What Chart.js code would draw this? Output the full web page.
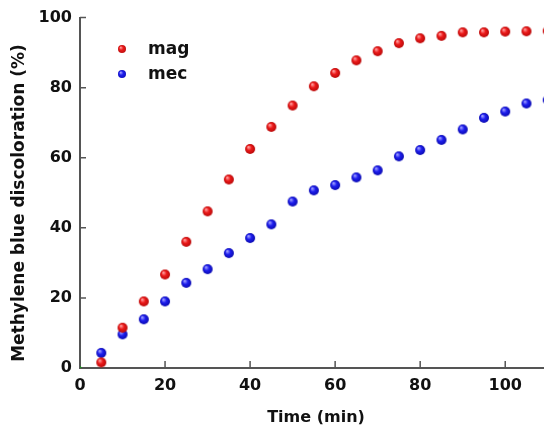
<!DOCTYPE html>
<html>
<head>
<meta charset="utf-8">
<script src="https://cdn.jsdelivr.net/npm/chart.js@4/dist/chart.umd.min.js"></script>
<style>
  html, body { margin: 0; padding: 0; background: #fff; overflow: hidden; }
  #wrap { width: 560px; height: 430px; }
</style>
</head>
<body>
<div id="wrap"><canvas id="chart"></canvas></div>
<script>
// Data
const times = [5, 10, 15, 20, 25, 30, 35, 40, 45, 50, 55, 60, 65, 70, 75, 80, 85, 90, 95, 100, 105, 110];
const magValues = [1.6, 11.5, 19.0, 26.7, 36.0, 44.7, 53.8, 62.5, 68.8, 74.9, 80.4, 84.2, 87.8, 90.4, 92.7, 94.1, 94.8, 95.8, 95.8, 96.0, 96.1, 96.2];
const mecValues = [4.3, 9.6, 13.9, 19.0, 24.3, 28.2, 32.8, 37.1, 41.0, 47.5, 50.7, 52.2, 54.4, 56.4, 60.4, 62.2, 65.1, 68.1, 71.4, 73.2, 75.5, 76.5];
const xTicks = [0, 20, 40, 60, 80, 100];
const yTicks = [0, 20, 40, 60, 80, 100];
const seriesNames = ['mag', 'mec'];
const yTitle = 'Methylene blue discoloration (%)';

const AXIS_COLOR = '#555555';
const FONT = 'DejaVu Sans';

// Shaded ball used as point marker
function makeBall(light, mid, dark, r) {
    const c = document.createElement('canvas');
    const s = r * 2 + 2;
    c.width = s; c.height = s;
    const g = c.getContext('2d');
    const grad = g.createRadialGradient(s / 2 - r * 0.35, s / 2 - r * 0.4, r * 0.1, s / 2, s / 2, r);
    grad.addColorStop(0, light);
    grad.addColorStop(0.45, mid);
    grad.addColorStop(1, dark);
    g.fillStyle = grad;
    g.beginPath();
    g.arc(s / 2, s / 2, r, 0, Math.PI * 2);
    g.fill();
    return c;
}

const redBall = makeBall('#ff9a9a', '#ec1a1a', '#b80808', 5);
const blueBall = makeBall('#9a9aff', '#1e1eee', '#0a0ab0', 5);
const redDot = makeBall('#ff9a9a', '#ec1a1a', '#c01010', 4);
const blueDot = makeBall('#9a9aff', '#1e1eee', '#1010c0', 4);

function toPoints(xs, ys) {
    return xs.map((x, i) => ({ x: x, y: ys[i] }));
}

// Tick marks pointing into the plot, y title, and the inset legend
const insidePlugin = {
    id: 'inside',
    afterDraw(chart) {
        const ctx = chart.ctx;
        const xs = chart.scales.x;
        const ys = chart.scales.y;
        const area = chart.chartArea;
        ctx.save();
        ctx.strokeStyle = AXIS_COLOR;
        ctx.lineWidth = 1.5;
        ctx.beginPath();
        xTicks.forEach(v => {
            if (v === 0) return;
            const px = xs.getPixelForValue(v);
            ctx.moveTo(px, area.bottom);
            ctx.lineTo(px, area.bottom - 7);
        });
        yTicks.forEach(v => {
            if (v === 0) return;
            const py = ys.getPixelForValue(v);
            ctx.moveTo(area.left, py);
            ctx.lineTo(area.left + 6, py);
        });
        ctx.stroke();

        // y axis title, a bit below the plot centre as in the original
        ctx.save();
        ctx.translate(20, 203);
        ctx.rotate(-Math.PI / 2);
        ctx.font = 'bold 17px "' + FONT + '"';
        ctx.fillStyle = '#111';
        ctx.textAlign = 'center';
        ctx.textBaseline = 'middle';
        ctx.fillText(yTitle, 0, 0);
        ctx.restore();

        // legend
        const dots = [redDot, blueDot];
        ctx.font = 'bold 17px "' + FONT + '"';
        ctx.fillStyle = '#111';
        ctx.textBaseline = 'middle';
        ctx.textAlign = 'left';
        seriesNames.forEach((name, i) => {
            const y = 49 + i * 25;
            const d = dots[i];
            ctx.drawImage(d, 122 - d.width / 2, y - d.height / 2);
            ctx.fillText(name, 148, y + 1);
        });
        ctx.restore();
    }
};

const tickFont = { family: FONT, size: 16, weight: 'bold' };

new Chart(document.getElementById('chart'), {
    type: 'scatter',
    data: {
        datasets: [
            {
                label: seriesNames[0],
                data: toPoints(times, magValues),
                pointStyle: redBall,
                backgroundColor: '#ec1a1a'
            },
            {
                label: seriesNames[1],
                data: toPoints(times, mecValues),
                pointStyle: blueBall,
                backgroundColor: '#1e1eee'
            },
            {
                label: 'origin',
                data: [{ x: 0, y: 0 }],
                pointStyle: 'rect',
                pointRadius: 1.5,
                backgroundColor: '#1a9a1a',
                borderColor: '#1a9a1a'
            }
        ]
    },
    options: {
        responsive: true,
        maintainAspectRatio: false,
        animation: false,
        layout: { padding: { top: 14, right: 8, left: 0, bottom: 0 } },
        plugins: {
            legend: { display: false },
            tooltip: { enabled: false }
        },
        scales: {
            x: {
                type: 'linear',
                min: 0,
                max: 111,
                afterBuildTicks: s => { s.ticks = xTicks.map(v => ({ value: v })); },
                afterFit: s => { s.height = 62; },
                grid: { display: false, drawTicks: false },
                border: { display: true, color: AXIS_COLOR, width: 2 },
                ticks: { font: tickFont, color: '#111', padding: 8, maxRotation: 0 },
                title: {
                    display: true,
                    text: 'Time (min)',
                    font: { family: FONT, size: 16, weight: 'bold' },
                    color: '#111',
                    padding: { top: 3, bottom: 3 }
                }
            },
            y: {
                type: 'linear',
                min: 0,
                max: 100,
                afterBuildTicks: s => { s.ticks = yTicks.map(v => ({ value: v })); },
                afterFit: s => { s.width = 80; },
                grid: { display: false, drawTicks: false },
                border: { display: true, color: AXIS_COLOR, width: 2 },
                ticks: { font: tickFont, color: '#111', padding: 8 }
            }
        }
    },
    plugins: [insidePlugin]
});
</script>
</body>
</html>
